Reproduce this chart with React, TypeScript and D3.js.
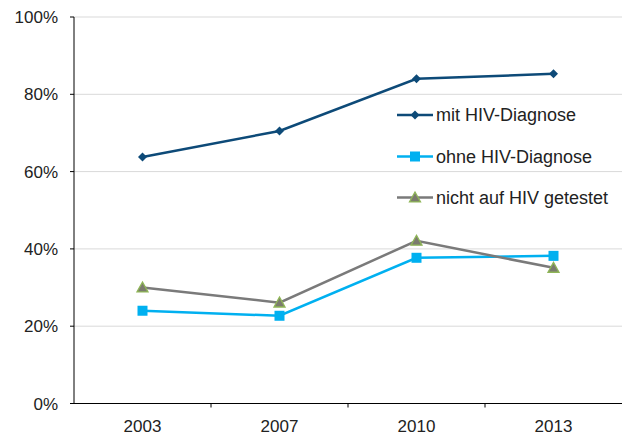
import React from "react";
import * as d3 from "d3";

const years = ["2003", "2007", "2010", "2013"];
const mitDiagnose = [63.8, 70.5, 84.0, 85.3];
const ohneDiagnose = [24.0, 22.7, 37.7, 38.2];
const nichtGetestet = [30.0, 26.1, 42.1, 35.1];
const yTicks = [0, 20, 40, 60, 80, 100];
const seriesNames = ["mit HIV-Diagnose", "ohne HIV-Diagnose", "nicht auf HIV getestet"];

const W = 622, H = 436;
const left = 74, right = 622, top = 17, bottom = 403.5;
const font = "'Liberation Sans', Arial, sans-serif";

export default function App() {
  const x = d3.scaleBand<string>().domain(years).range([left, right]);
  const y = d3.scaleLinear().domain([0, 100]).range([bottom, top]);
  const cx = (yr: string) => (x(yr) as number) + x.bandwidth() / 2;

  const series = [
    { name: seriesNames[0], values: mitDiagnose, color: "#0d4a78", marker: "diamond" },
    { name: seriesNames[1], values: ohneDiagnose, color: "#00b0f0", marker: "square" },
    { name: seriesNames[2], values: nichtGetestet, color: "#7a7a7a", marker: "triangle" },
  ];

  const line = d3.line<number>().x((_, i) => cx(years[i])).y((v) => y(v));

  const marker = (type: string, px: number, py: number, color: string, key: string) => {
    if (type === "diamond") {
      const s = 4.5;
      return <path key={key} d={`M${px},${py - s}L${px + s},${py}L${px},${py + s}L${px - s},${py}Z`} fill={color} />;
    }
    if (type === "square") {
      const s = 5;
      return <rect key={key} x={px - s} y={py - s} width={2 * s} height={2 * s} fill={color} />;
    }
    const s = 5.5;
    return (
      <path
        key={key}
        d={`M${px},${py - s}L${px + s},${py + s * 0.8}L${px - s},${py + s * 0.8}Z`}
        fill="#7b7b6e"
        stroke="#8fb657"
        strokeWidth={1.3}
      />
    );
  };

  const legendY = [115, 156.5, 197.5];

  return (
    <svg width={W} height={H} style={{ position: "absolute", left: 0, top: 0, background: "#fff" }}>
      {yTicks.map((t) => (
        <g key={t}>
          {t > 0 && <line x1={left} x2={right} y1={y(t)} y2={y(t)} stroke="#d9d9d9" strokeWidth={1} />}
          <line x1={left - 4} x2={left} y1={y(t)} y2={y(t)} stroke="#000" strokeWidth={1} />
          <text x={58} y={y(t) + 6} textAnchor="end" fontFamily={font} fontSize={17} fill="#222">
            {t}%
          </text>
        </g>
      ))}
      <line x1={left} x2={left} y1={top} y2={bottom} stroke="#000" strokeWidth={1} />
      <line x1={left} x2={right} y1={bottom} y2={bottom} stroke="#000" strokeWidth={1} />
      {years.map((yr, i) => (
        <g key={yr}>
          {i > 0 && <line x1={x(yr)} x2={x(yr)} y1={bottom} y2={bottom + 4} stroke="#000" />}
          <text x={cx(yr)} y={432} textAnchor="middle" fontFamily={font} fontSize={17} fill="#222">
            {yr}
          </text>
        </g>
      ))}
      {series.map((s) => (
        <g key={s.name}>
          <path d={line(s.values) || ""} fill="none" stroke={s.color} strokeWidth={2.5} />
          {s.values.map((v, i) => marker(s.marker, cx(years[i]), y(v), s.color, s.name + i))}
        </g>
      ))}
      {series.map((s, i) => (
        <g key={"lg" + s.name}>
          <line x1={397} x2={433} y1={legendY[i]} y2={legendY[i]} stroke={s.color} strokeWidth={2.5} />
          {marker(s.marker, 415, legendY[i], s.color, "lm" + i)}
          <text x={436} y={legendY[i] + 6} fontFamily={font} fontSize={18} fill="#222">
            {s.name}
          </text>
        </g>
      ))}
    </svg>
  );
}
